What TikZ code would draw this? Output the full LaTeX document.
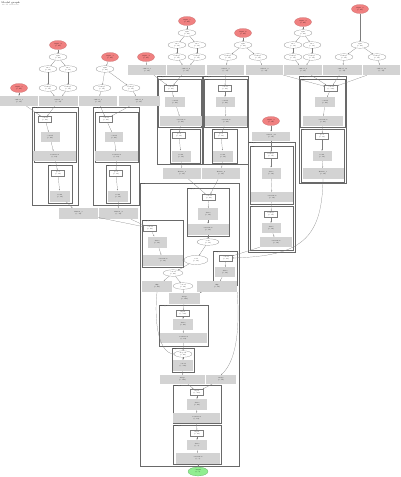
\documentclass[tikz,border=0pt]{standalone}
\usetikzlibrary{arrows.meta,shapes.geometric}
\definecolor{cIn}{RGB}{240,128,128}
\definecolor{cOut}{RGB}{144,238,144}
\definecolor{cBox}{RGB}{211,211,211}
\definecolor{cEdge}{RGB}{125,125,125}
\definecolor{cFrame}{RGB}{105,105,105}

\begin{document}
\begin{tikzpicture}[x=1pt,y=-1pt,
    every node/.style={font=\fontsize{1.5}{1.8}\selectfont,align=center,inner sep=0.3pt},
    inp/.style={ellipse,fill=cIn,draw=cIn!80!black,line width=0.2pt,minimum width=17pt,minimum height=9pt},
    outp/.style={ellipse,fill=cOut,draw=cOut!70!black,line width=0.2pt,minimum width=20pt,minimum height=9pt},
    opell/.style={ellipse,draw=cEdge,fill=white,line width=0.2pt,minimum width=18pt,minimum height=6.5pt},
    oprect/.style={rectangle,draw=cEdge,fill=white,line width=0.2pt,minimum width=13pt,minimum height=6pt},
    gbox/.style={rectangle,fill=cBox,minimum width=#1,minimum height=10pt},
    gbox/.default=20pt,
    frame/.style={draw=cFrame,line width=0.4pt},
    subframe/.style={draw=cFrame,line width=0.3pt},
    clab/.style={anchor=north west,inner sep=0.6pt,font=\fontsize{1.4}{1.6}\selectfont},
    conn/.style={-{Stealth[length=1.3pt,width=1pt]},draw=cEdge,line width=0.2pt}
  ]
  \useasboundingbox (0,0) rectangle (400,477);

  % title
  \node[anchor=north west,font=\fontsize{2.4}{2.8}\selectfont] (title) at (1,1) {Model graph\\[-0.2pt]{\color{gray}\fontsize{1.8}{2}\selectfont model structure}};

  % ---- cluster frames
  \draw[frame] (32,107) rectangle (78,205);
  \draw[subframe] (34,112) rectangle (76,162);
  \draw[subframe] (48,165) rectangle (72,203);
  \draw[frame] (93,107) rectangle (139,205);
  \draw[subframe] (95,112) rectangle (138,162);
  \draw[subframe] (106,165) rectangle (130,203);
  \draw[frame] (157,76) rectangle (202,164);
  \draw[subframe] (158,79) rectangle (201,127);
  \draw[subframe] (170,129) rectangle (200,163);
  \draw[frame] (203,76) rectangle (248,164);
  \draw[subframe] (204,79) rectangle (247,127);
  \draw[subframe] (212,129) rectangle (237,163);
  \draw[frame] (299,76) rectangle (346,183);
  \draw[subframe] (300,79) rectangle (345,127);
  \draw[subframe] (301,129) rectangle (344,182);
  \draw[frame] (248,142) rectangle (295,252);
  \draw[subframe] (250,146) rectangle (293,204);
  \draw[subframe] (250,206) rectangle (293,250);
  \draw[frame] (140,183) rectangle (239,466);
  \draw[subframe] (187,188) rectangle (229,236);
  \draw[subframe] (142,220) rectangle (183,267);
  \draw[subframe] (213,251) rectangle (237,285);
  \draw[subframe] (159,305) rectangle (208,346);
  \draw[subframe] (172,348) rectangle (194,372);
  \draw[subframe] (173,385) rectangle (221,423);
  \draw[subframe] (173,425) rectangle (221,464);

  \node[clab] (labL1) at (32,107) {block\_1};
  \node[clab] (labL1a) at (34,112) {conv};
  \node[clab] (labL1b) at (48,165) {bn};
  \node[clab] (labL2) at (93,107) {block\_2};
  \node[clab] (labL2a) at (95,112) {conv};
  \node[clab] (labL2b) at (106,165) {bn};
  \node[clab] (labM1) at (157,76) {block\_3};
  \node[clab] (labM1a) at (158,79) {conv};
  \node[clab] (labM1b) at (170,129) {bn};
  \node[clab] (labM2) at (203,76) {block\_4};
  \node[clab] (labM2a) at (204,79) {conv};
  \node[clab] (labM2b) at (212,129) {bn};
  \node[clab] (labR1) at (299,76) {block\_5};
  \node[clab] (labR1a) at (300,79) {conv};
  \node[clab] (labR1b) at (301,129) {bn};
  \node[clab] (labG) at (248,142) {block\_6};
  \node[clab] (labGa) at (250,146) {conv};
  \node[clab] (labGb) at (250,206) {bn};
  \node[clab] (labBig) at (140,183) {head};
  \node[clab] (labA) at (187,188) {merge\_a};
  \node[clab] (labB) at (142,220) {merge\_b};
  \node[clab] (labC) at (213,251) {merge\_c};
  \node[clab] (labD) at (159,305) {dense\_1};
  \node[clab] (labE) at (172,348) {drop};
  \node[clab] (labF) at (173,385) {dense\_2};
  \node[clab] (labGg) at (173,425) {dense\_3};

  % ---- inputs and top ops
  \node[inp] (inL) at (19,88) {input\_1\\(?, 64)};
  \node[inp] (inA) at (58,45) {input\_2\\(?, 64)};
  \node[opell] (ellA) at (58,57) {split\\(?, 64)};
  \node[opell] (ellAa) at (48,69) {slice\\(?, 32)};
  \node[opell] (ellAb) at (68,69) {slice\\(?, 32)};
  \node[opell] (ellAc) at (48,88) {reshape\\(?, 32)};
  \node[opell] (ellAd) at (68,88) {reshape\\(?, 32)};
  \node[inp] (inB) at (110,57) {input\_3\\(?, 64)};
  \node[opell] (ellB) at (105,69) {split\\(?, 64)};
  \node[opell] (ellBa) at (102,88) {reshape\\(?, 32)};
  \node[opell] (ellBb) at (131,88) {reshape\\(?, 32)};
  \node[gbox=38pt] (gA1) at (19,101) {embed\_1\\(?, 32)};
  \node[gbox=39pt] (gA2) at (58.5,101) {embed\_2\\(?, 32)};
  \node[gbox=38pt] (gB1) at (98,101) {embed\_3\\(?, 32)};
  \node[gbox=41pt] (gB2) at (139,101) {embed\_4\\(?, 32)};

  \node[inp] (inM) at (146,57) {input\_4\\(?, 64)};
  \node[inp] (inC) at (187,21) {input\_5\\(?, 64)};
  \node[opell] (ellC) at (187,33) {split\\(?, 64)};
  \node[opell] (ellCa) at (177,45) {slice\\(?, 32)};
  \node[opell] (ellCb) at (197,45) {slice\\(?, 32)};
  \node[opell] (ellCc) at (177,57) {reshape\\(?, 32)};
  \node[opell] (ellCd) at (197,57) {reshape\\(?, 32)};
  \node[inp] (inD) at (243,33) {input\_6\\(?, 64)};
  \node[opell] (ellD) at (243,45) {split\\(?, 64)};
  \node[opell] (ellDa) at (228,57) {reshape\\(?, 32)};
  \node[opell] (ellDb) at (258,57) {reshape\\(?, 32)};
  \node[inp] (inE) at (303,22) {input\_7\\(?, 64)};
  \node[opell] (ellE) at (303,33) {split\\(?, 64)};
  \node[opell] (ellEa) at (293,45) {slice\\(?, 32)};
  \node[opell] (ellEb) at (312,45) {slice\\(?, 32)};
  \node[opell] (ellEc) at (293,57) {reshape\\(?, 32)};
  \node[opell] (ellEd) at (312,57) {reshape\\(?, 32)};
  \node[inp] (inF) at (360,9) {input\_8\\(?, 64)};
  \node[opell] (ellF) at (360,45) {split\\(?, 64)};
  \node[opell] (ellFa) at (344,57) {reshape\\(?, 32)};
  \node[opell] (ellFb) at (377,57) {reshape\\(?, 32)};
  \node[gbox=38pt] (gM1) at (147,70) {embed\_5\\(?, 32)};
  \node[gbox=38pt] (gM2) at (186,70) {embed\_6\\(?, 32)};
  \node[gbox=37pt] (gM3) at (225.5,70) {embed\_7\\(?, 32)};
  \node[gbox=37pt] (gM4) at (264.5,70) {embed\_8\\(?, 32)};
  \node[gbox=38pt] (gM5) at (303,70) {embed\_9\\(?, 32)};
  \node[gbox=39pt] (gM6) at (342.5,70) {embed\_10\\(?, 32)};
  \node[gbox=37pt] (gM7) at (381.5,70) {embed\_11\\(?, 32)};

  % ---- left blocks
  \node[oprect] (rL1) at (45,119) {concat\\(?, 64)};
  \node[gbox=19pt] (gL1) at (50,137) {conv1d\\(?, 64)};
  \node[gbox=43pt] (wL1) at (54.5,156) {activation\\(?, 64)};
  \node[oprect] (rL1b) at (58,173) {pool\\(?, 32)};
  \node[gbox=20pt,minimum height=11pt] (gL1b) at (60,196) {norm\\(?, 32)};
  \node[oprect] (rL2) at (106,119) {concat\\(?, 64)};
  \node[gbox=18pt] (gL2) at (114,137) {conv1d\\(?, 64)};
  \node[gbox=43pt] (wL2) at (116.5,156) {activation\\(?, 64)};
  \node[oprect] (rL2b) at (116,173) {pool\\(?, 32)};
  \node[gbox=20pt,minimum height=11pt] (gL2b) at (118,196) {norm\\(?, 32)};
  \node[gbox=39pt,minimum height=11pt] (oL1) at (78.5,213.5) {flatten\_1\\(?, 32)};
  \node[gbox=39pt,minimum height=11pt] (oL2) at (118.5,213.5) {flatten\_2\\(?, 32)};

  % ---- middle blocks
  \node[oprect] (rM1) at (171,88) {concat\\(?, 64)};
  \node[gbox=20pt] (gMa) at (175,102) {conv1d\\(?, 64)};
  \node[gbox=42pt] (wM1) at (181,121) {activation\\(?, 64)};
  \node[oprect] (rM1b) at (179,135) {pool\\(?, 32)};
  \node[gbox=19pt,minimum height=11pt] (gMb) at (181,156) {norm\\(?, 32)};
  \node[oprect] (rM2) at (225,88) {concat\\(?, 64)};
  \node[gbox=19pt] (gMc) at (225,102) {conv1d\\(?, 64)};
  \node[gbox=42pt] (wM2) at (226,121) {activation\\(?, 64)};
  \node[oprect] (rM2b) at (221,135) {pool\\(?, 32)};
  \node[gbox=20pt,minimum height=11pt] (gMd) at (223,156) {norm\\(?, 32)};
  \node[gbox=38pt,minimum height=11pt] (oM1) at (182,173.5) {flatten\_3\\(?, 32)};
  \node[gbox=38pt,minimum height=11pt] (oM2) at (221,173.5) {flatten\_4\\(?, 32)};

  % ---- right blocks
  \node[oprect] (rR1) at (331,88) {concat\\(?, 128)};
  \node[gbox=20pt] (gRa) at (325,102) {conv1d\\(?, 64)};
  \node[gbox=40pt] (wR1) at (323,121) {activation\\(?, 64)};
  \node[oprect] (rR1b) at (322,136) {pool\\(?, 32)};
  \node[gbox=19pt] (gRb) at (322,156) {norm\\(?, 32)};
  \node[gbox=41pt,minimum height=11pt] (wR1b) at (323,173.5) {flatten\_5\\(?, 32)};
  \node[inp] (inG) at (271,121) {input\_9\\(?, 16)};
  \node[gbox=38pt,minimum height=9pt] (gG) at (271,136) {embed\_12\\(?, 16)};
  \node[oprect] (rG1) at (271,155) {reshape\\(?, 16)};
  \node[gbox=19pt,minimum height=11pt] (gG1) at (271,173) {dense\\(?, 16)};
  \node[gbox=42pt] (wG1) at (272,197) {activation\\(?, 16)};
  \node[oprect] (rG2) at (271,214) {reshape\\(?, 16)};
  \node[gbox=19pt] (gG2) at (271,228) {dense\\(?, 16)};
  \node[gbox=32pt] (wG2) at (276,242) {activation\\(?, 16)};

  % ---- head
  \node[oprect] (rA) at (209,197) {concat\\(?, 64)};
  \node[gbox=20pt,minimum height=12pt] (gA) at (208,214) {dense\\(?, 32)};
  \node[gbox=41pt,minimum height=11pt] (wA) at (208,229) {activation\\(?, 32)};
  \node[opell,minimum width=22pt] (ellX) at (208,242) {scale\\(?, 32)};
  \node[opell,minimum width=24pt,minimum height=9pt] (ellY) at (196,260) {add\\(?, 32)};
  \node[opell,minimum width=20pt] (ellZ) at (173,273) {concat\\(?, 64)};
  \node[oprect] (rB) at (150,228) {concat\\(?, 64)};
  \node[gbox=19pt,minimum height=11pt] (gB) at (157,242) {dense\\(?, 32)};
  \node[gbox=40pt,minimum height=11pt] (wB) at (163,260.5) {activation\\(?, 32)};
  \node[oprect] (rC) at (226,258) {concat\\(?, 48)};
  \node[gbox=20pt] (gC) at (225,272) {dense\\(?, 32)};
  \node[gbox=30pt,minimum height=11pt] (lgray) at (157,286.5) {skip\\(?, 64)};
  \node[opell,minimum width=20pt] (ellW) at (183,286) {concat\\(?, 96)};
  \node[gbox=40pt,minimum height=11pt] (rgray) at (217,286.5) {skip\\(?, 32)};
  \node[gbox=31pt,minimum height=11pt] (mgray) at (184.5,298.5) {merge\\(?, 128)};
  \node[oprect] (rD) at (183,313) {input\\(?, 128)};
  \node[gbox=20pt,minimum height=11pt] (gD) at (183,324.5) {dense\\(?, 64)};
  \node[gbox=47pt] (wD) at (183.5,338) {activation\\(?, 64)};
  \node[opell,minimum width=18pt] (ellE2) at (183,354) {dropout\\(?, 64)};
  \node[gbox=20pt,minimum height=11pt] (gE) at (183,365.5) {concat\\(?, 128)};
  \node[gbox=45pt,minimum height=9pt] (g1) at (182.5,379.5) {merge\\(?, 128)};
  \node[gbox=30pt,minimum height=9pt] (g2) at (221,379.5) {merge\\(?, 32)};
  \node[oprect] (rF) at (197,392) {input\\(?, 160)};
  \node[gbox=20pt,minimum height=11pt] (gF) at (197,404.5) {dense\\(?, 64)};
  \node[gbox=47pt] (wF) at (196.5,418) {activation\\(?, 64)};
  \node[oprect] (rGg) at (197,433) {input\\(?, 64)};
  \node[gbox=20pt] (gGg) at (197,445) {dense\\(?, 1)};
  \node[gbox=44pt,minimum height=11pt] (wG) at (198,458.5) {activation\\(?, 1)};
  \node[outp] (outp) at (198,471.5) {output\\(?, 1)};

  % ---- connectors
  \foreach \a/\b in {inA/ellA,ellA/ellAa,ellA/ellAb,ellAa/ellAc,ellAb/ellAd,ellAc/gA2,ellAd/gA2,inL/gA1,
      inB/ellB,ellB/ellBa,ellB/ellBb,ellBa/gB1,ellBb/gB2,
      gA1/rL1,gA2/rL1,gB1/rL2,gB2/rL2,
      rL1/gL1,gL1/wL1,wL1/rL1b,rL1b/gL1b,gL1b/oL1,
      rL2/gL2,gL2/wL2,wL2/rL2b,rL2b/gL2b,gL2b/oL2,oL1/rB,oL2/rB,
      inM/gM1,inC/ellC,ellC/ellCa,ellC/ellCb,ellCa/ellCc,ellCb/ellCd,ellCc/gM2,ellCd/gM2,
      inD/ellD,ellD/ellDa,ellD/ellDb,ellDa/gM3,ellDb/gM4,
      inE/ellE,ellE/ellEa,ellE/ellEb,ellEa/ellEc,ellEb/ellEd,ellEc/gM5,ellEd/gM5,
      inF/ellF,ellF/ellFa,ellF/ellFb,ellFa/gM6,ellFb/gM7,
      gM1/rM1,gM2/rM1,gM3/rM2,gM4/rR1,gM5/rR1,gM6/rR1,gM7/rR1,
      rM1/gMa,gMa/wM1,wM1/rM1b,rM1b/gMb,gMb/oM1,
      rM2/gMc,gMc/wM2,wM2/rM2b,rM2b/gMd,gMd/oM2,oM1/rA,oM2/rA,
      rR1/gRa,gRa/wR1,wR1/rR1b,rR1b/gRb,gRb/wR1b,
      inG/gG,gG/rG1,rG1/gG1,gG1/wG1,wG1/rG2,rG2/gG2,gG2/wG2,wG2/rC,
      rA/gA,gA/wA,wA/ellX,ellX/ellY,rB/gB,gB/wB,wB/ellY,ellY/ellZ,
      rC/gC,gC/rgray,ellZ/lgray,ellZ/ellW,ellW/mgray,rgray/mgray,
      mgray/rD,rD/gD,gD/wD,wD/ellE2,ellE2/gE,gE/g1,g1/rF,g2/rF,
      rF/gF,gF/wF,wF/rGg,rGg/gGg,gGg/wG,wG/outp}
    \draw[conn] (\a) -- (\b);
  \draw[conn] (wR1b.south) .. controls (322,240) and (300,256) .. (rC.east);
  \draw[conn] (lgray.south) .. controls (154,320) and (158,352) .. (ellE2.west);
  \draw[conn] (rgray.south east) .. controls (240,330) and (236,362) .. (g2.north);
\end{tikzpicture}
\end{document}
